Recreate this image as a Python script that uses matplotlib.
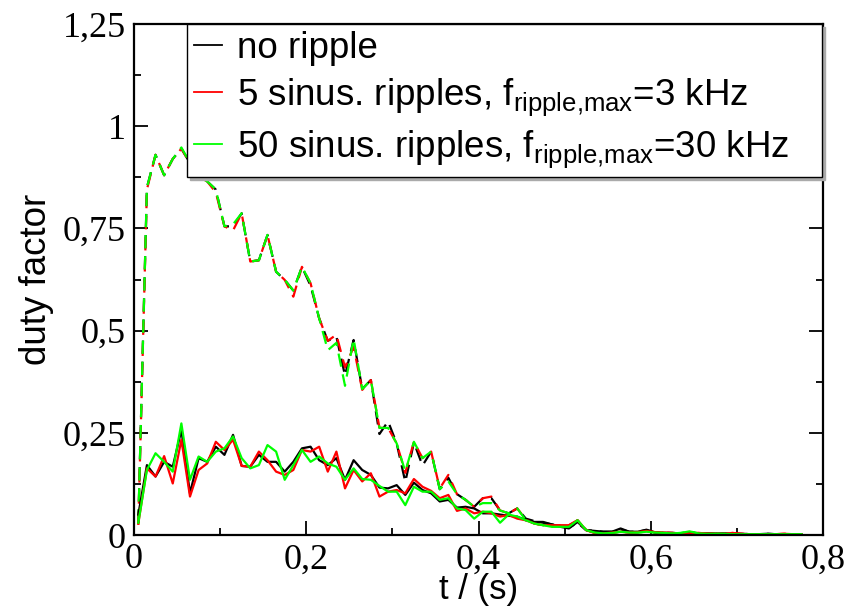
import matplotlib
matplotlib.use("Agg")
import matplotlib.pyplot as plt
from matplotlib.ticker import MultipleLocator, FixedLocator

t = [0.005, 0.015, 0.025, 0.035, 0.045, 0.055, 0.065, 0.075, 0.085, 0.095,
     0.105, 0.115, 0.125, 0.135, 0.145, 0.155, 0.165, 0.175, 0.185, 0.195,
     0.205, 0.215, 0.225, 0.235, 0.245, 0.255, 0.265, 0.275, 0.285, 0.295,
     0.305, 0.315, 0.325, 0.335, 0.345, 0.355, 0.365, 0.375, 0.385, 0.395,
     0.405, 0.415, 0.425, 0.435, 0.445, 0.455, 0.465, 0.475, 0.485, 0.495,
     0.505, 0.515, 0.525, 0.535, 0.545, 0.555, 0.565, 0.575, 0.585, 0.595,
     0.605, 0.615, 0.625, 0.635, 0.645, 0.655, 0.665, 0.675, 0.685, 0.695,
     0.705, 0.715, 0.725, 0.735, 0.745, 0.755, 0.765, 0.775]

black_solid = [0.050, 0.171, 0.143, 0.179, 0.167, 0.257, 0.102, 0.188, 0.179, 0.216,
               0.196, 0.245, 0.169, 0.167, 0.196, 0.179, 0.179, 0.155, 0.179, 0.212,
               0.216, 0.183, 0.171, 0.188, 0.135, 0.183, 0.159, 0.147, 0.116, 0.114,
               0.122, 0.098, 0.128, 0.110, 0.102, 0.082, 0.086, 0.067, 0.069, 0.065,
               0.053, 0.053, 0.050, 0.047, 0.045, 0.036, 0.032, 0.032, 0.026, 0.020,
               0.016, 0.032, 0.012, 0.010, 0.008, 0.008, 0.016, 0.008, 0.008, 0.013,
               0.006, 0.005, 0.005, 0.004, 0.006, 0.004, 0.004, 0.003, 0.004, 0.002,
               0.003, 0.002, 0.002, 0.003, 0.002, 0.002, 0.002, 0.002]

red_solid = [0.028, 0.163, 0.143, 0.193, 0.126, 0.233, 0.094, 0.159, 0.175, 0.228,
             0.208, 0.233, 0.169, 0.167, 0.204, 0.183, 0.155, 0.147, 0.159, 0.208,
             0.204, 0.216, 0.155, 0.204, 0.114, 0.159, 0.131, 0.151, 0.094, 0.106,
             0.110, 0.102, 0.137, 0.118, 0.108, 0.090, 0.098, 0.059, 0.065, 0.053,
             0.057, 0.053, 0.045, 0.049, 0.040, 0.036, 0.028, 0.024, 0.024, 0.024,
             0.024, 0.036, 0.012, 0.005, 0.004, 0.006, 0.008, 0.006, 0.007, 0.010,
             0.007, 0.006, 0.005, 0.004, 0.004, 0.005, 0.004, 0.003, 0.003, 0.005,
             0.003, 0.002, 0.002, 0.002, 0.002, 0.003, 0.002, 0.002]

green_solid = [0.030, 0.159, 0.200, 0.179, 0.155, 0.273, 0.135, 0.192, 0.179, 0.204,
               0.212, 0.241, 0.188, 0.163, 0.171, 0.220, 0.204, 0.135, 0.171, 0.208,
               0.179, 0.192, 0.175, 0.167, 0.135, 0.163, 0.137, 0.135, 0.120, 0.106,
               0.106, 0.073, 0.118, 0.106, 0.106, 0.086, 0.090, 0.065, 0.061, 0.040,
               0.057, 0.057, 0.030, 0.050, 0.045, 0.036, 0.028, 0.024, 0.020, 0.020,
               0.020, 0.036, 0.012, 0.006, 0.004, 0.005, 0.008, 0.006, 0.006, 0.008,
               0.006, 0.005, 0.004, 0.005, 0.009, 0.004, 0.003, 0.003, 0.003, 0.002,
               0.002, 0.002, 0.002, 0.002, 0.002, 0.002, 0.002, 0.002]

black_dashed = [0.030, 0.850, 0.930, 0.880, 0.920, 0.945, 0.910, 0.877, 0.865, 0.845,
                0.755, 0.755, 0.787, 0.669, 0.672, 0.734, 0.644, 0.624, 0.598, 0.656,
                0.610, 0.530, 0.475, 0.485, 0.390, 0.477, 0.357, 0.379, 0.247, 0.278,
                0.224, 0.130, 0.226, 0.170, 0.204, 0.112, 0.140, 0.100, 0.086, 0.069,
                0.090, 0.090, 0.060, 0.053, 0.065, 0.040, 0.034, 0.030, 0.026, 0.022,
                0.018, 0.030, 0.012, 0.010, 0.008, 0.008, 0.014, 0.008, 0.008, 0.012,
                0.006, 0.005, 0.005, 0.004, 0.006, 0.004, 0.004, 0.003, 0.004, 0.002,
                0.003, 0.002, 0.002, 0.003, 0.002, 0.002, 0.002, 0.002]

red_dashed = [0.025, 0.845, 0.930, 0.880, 0.920, 0.945, 0.910, 0.877, 0.865, 0.838,
              0.755, 0.745, 0.787, 0.669, 0.672, 0.734, 0.644, 0.624, 0.583, 0.656,
              0.616, 0.530, 0.475, 0.490, 0.410, 0.460, 0.355, 0.379, 0.262, 0.262,
              0.224, 0.152, 0.228, 0.188, 0.204, 0.114, 0.147, 0.100, 0.086, 0.069,
              0.090, 0.094, 0.060, 0.053, 0.065, 0.038, 0.028, 0.024, 0.024, 0.024,
              0.024, 0.036, 0.012, 0.005, 0.004, 0.006, 0.008, 0.006, 0.007, 0.010,
              0.007, 0.006, 0.005, 0.004, 0.004, 0.005, 0.004, 0.003, 0.003, 0.005,
              0.003, 0.002, 0.002, 0.002, 0.002, 0.003, 0.002, 0.002]

green_dashed = [0.030, 0.850, 0.930, 0.880, 0.920, 0.948, 0.910, 0.877, 0.865, 0.845,
                0.755, 0.760, 0.787, 0.669, 0.672, 0.734, 0.644, 0.624, 0.598, 0.656,
                0.616, 0.530, 0.452, 0.470, 0.365, 0.480, 0.357, 0.379, 0.262, 0.262,
                0.224, 0.155, 0.228, 0.188, 0.204, 0.112, 0.131, 0.100, 0.086, 0.069,
                0.078, 0.078, 0.060, 0.053, 0.065, 0.036, 0.028, 0.024, 0.020, 0.020,
                0.020, 0.036, 0.012, 0.006, 0.004, 0.005, 0.008, 0.006, 0.006, 0.008,
                0.006, 0.005, 0.004, 0.005, 0.009, 0.004, 0.003, 0.003, 0.003, 0.002,
                0.002, 0.002, 0.002, 0.002, 0.002, 0.002, 0.002, 0.002]

labels = ["no ripple",
          r"5 sinus. ripples, f$_{\mathrm{ripple{,}max}}$=3 kHz",
          r"50 sinus. ripples, f$_{\mathrm{ripple{,}max}}$=30 kHz"]
colors = ["#000000", "#ff0000", "#00ff00"]

x_ticks = [0, 0.2, 0.4, 0.6, 0.8]
x_ticklabels = ["0", "0,2", "0,4", "0,6", "0,8"]
y_ticks = [0, 0.25, 0.5, 0.75, 1.0, 1.25]
y_ticklabels = ["0", "0,25", "0,5", "0,75", "1", "1,25"]

plt.rcParams["mathtext.fontset"] = "custom"
plt.rcParams["mathtext.rm"] = "Liberation Sans"
plt.rcParams["mathtext.it"] = "Liberation Sans:italic"
plt.rcParams["mathtext.bf"] = "Liberation Sans:bold"

fig = plt.figure(figsize=(8.53, 6.09), dpi=100)
ax = fig.add_axes([134 / 853, 74 / 609, 689 / 853, 511 / 609])

lw = 1.6
dash = (0, (6, 3.5))
for ys, c in zip([black_dashed, red_dashed, green_dashed], colors):
    ax.plot(t, ys, color=c, lw=lw, linestyle=dash)
handles = []
for ys, c, lab in zip([black_solid, red_solid, green_solid], colors, labels):
    h, = ax.plot(t, ys, color=c, lw=lw, label=lab)
    handles.append(h)

ax.set_xlim(0, 0.8)
ax.set_ylim(0, 1.25)
ax.xaxis.set_major_locator(FixedLocator(x_ticks))
ax.set_xticklabels(x_ticklabels)
ax.yaxis.set_major_locator(FixedLocator(y_ticks))
ax.set_yticklabels(y_ticklabels)
ax.xaxis.set_minor_locator(MultipleLocator(0.1))
ax.yaxis.set_minor_locator(MultipleLocator(0.125))
ax.tick_params(which="both", direction="in", top=True, right=True, width=1.3)
ax.tick_params(which="major", length=10, pad=6)
ax.tick_params(which="minor", length=5)
for lab in ax.get_xticklabels() + ax.get_yticklabels():
    lab.set_fontfamily("Liberation Serif")
    lab.set_fontsize(26)
for s in ax.spines.values():
    s.set_linewidth(1.6)

fig.text(478.5 / 853, 3 / 609, "t / (s)", fontsize=25, fontfamily="Liberation Sans",
         ha="center", va="bottom")
ax.set_ylabel("duty factor", fontsize=26.5, fontfamily="Liberation Sans", labelpad=6)

leg = ax.legend(handles=handles, loc="upper left",
                bbox_to_anchor=(0.077, 0.70, 0.9215, 0.30), mode="expand",
                borderaxespad=0, frameon=True, fancybox=False,
                prop={"family": "Liberation Sans", "size": 26.5},
                handlelength=0.75, handletextpad=0.4, labelspacing=0.28,
                borderpad=0.2, shadow={"color": "#aaaaaa", "alpha": 1})
leg.get_frame().set_edgecolor("black")
leg.get_frame().set_linewidth(1.0)
for lh in leg.get_lines():
    lh.set_linewidth(1.3)

fig.savefig("out.png", dpi=100)
